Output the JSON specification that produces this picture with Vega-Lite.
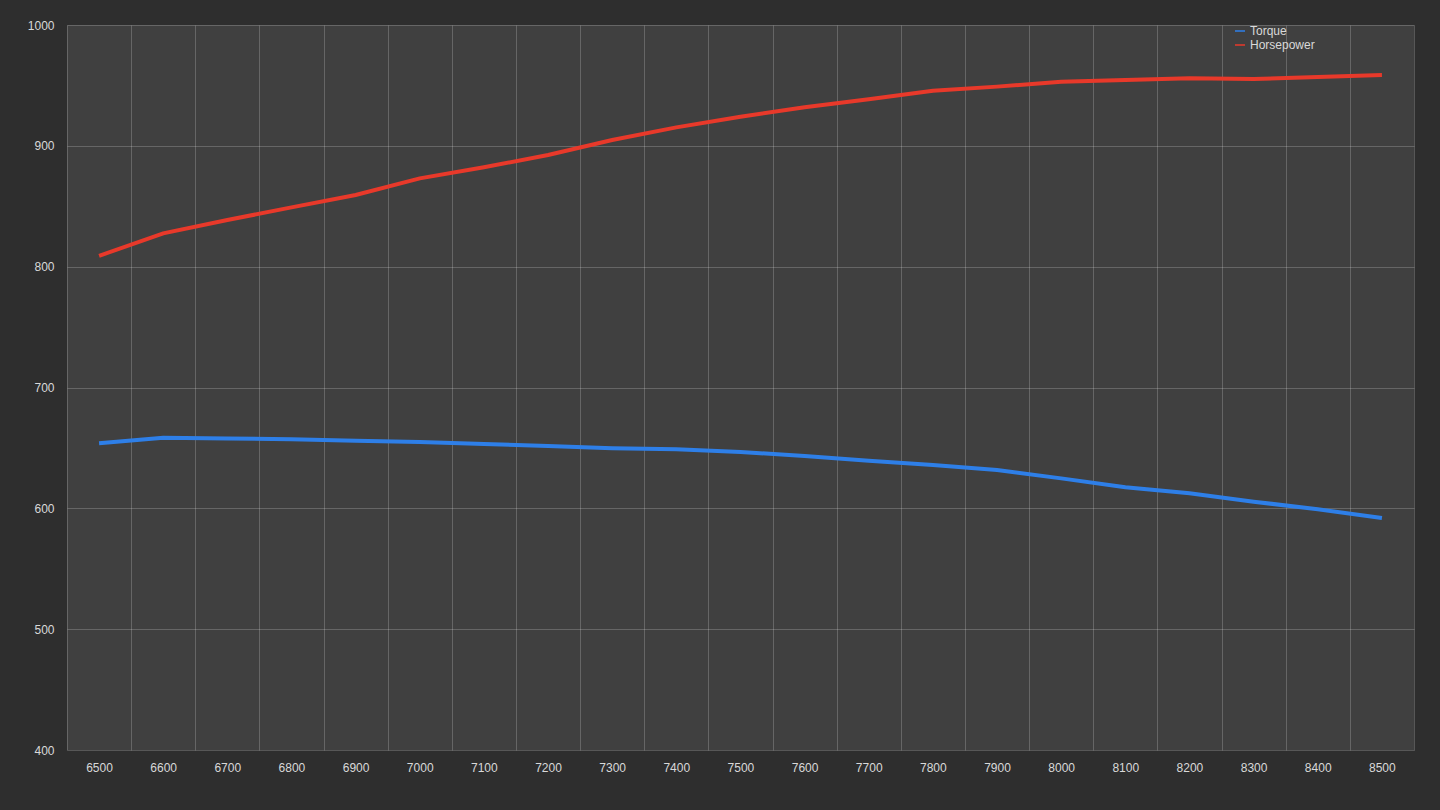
{
  "$schema": "https://vega.github.io/schema/vega-lite/v6.json",
  "width": 1347,
  "height": 725,
  "autosize": "none",
  "padding": {"left": 67, "top": 25, "right": 26, "bottom": 60},
  "background": "#2e2e2e",
  "config": {
    "view": {"stroke": null, "fill": "#404040"},
    "axis": {
      "labelColor": "#d9d9d9",
      "labelFontSize": 12,
      "ticks": false,
      "domain": false,
      "gridColor": "#ffffff",
      "gridOpacity": 0.2
    },
    "legend": {
      "labelColor": "#d9d9d9",
      "labelFontSize": 12
    }
  },
  "data": {
    "values": [
      {"rpm": 6500, "series": "Torque", "v": 653.8},
      {"rpm": 6600, "series": "Torque", "v": 658.5},
      {"rpm": 6700, "series": "Torque", "v": 657.8},
      {"rpm": 6800, "series": "Torque", "v": 657.1},
      {"rpm": 6900, "series": "Torque", "v": 656.0},
      {"rpm": 7000, "series": "Torque", "v": 654.9},
      {"rpm": 7100, "series": "Torque", "v": 653.2},
      {"rpm": 7200, "series": "Torque", "v": 651.6},
      {"rpm": 7300, "series": "Torque", "v": 649.7},
      {"rpm": 7400, "series": "Torque", "v": 648.8},
      {"rpm": 7500, "series": "Torque", "v": 646.6},
      {"rpm": 7600, "series": "Torque", "v": 643.3},
      {"rpm": 7700, "series": "Torque", "v": 639.4},
      {"rpm": 7800, "series": "Torque", "v": 635.8},
      {"rpm": 7900, "series": "Torque", "v": 631.7},
      {"rpm": 8000, "series": "Torque", "v": 624.8},
      {"rpm": 8100, "series": "Torque", "v": 617.4},
      {"rpm": 8200, "series": "Torque", "v": 612.4},
      {"rpm": 8300, "series": "Torque", "v": 605.5},
      {"rpm": 8400, "series": "Torque", "v": 599.2},
      {"rpm": 8500, "series": "Torque", "v": 592.0},
      {"rpm": 6500, "series": "Horsepower", "v": 809.0},
      {"rpm": 6600, "series": "Horsepower", "v": 827.6},
      {"rpm": 6700, "series": "Horsepower", "v": 838.6},
      {"rpm": 6800, "series": "Horsepower", "v": 849.1},
      {"rpm": 6900, "series": "Horsepower", "v": 859.3},
      {"rpm": 7000, "series": "Horsepower", "v": 873.1},
      {"rpm": 7100, "series": "Horsepower", "v": 882.2},
      {"rpm": 7200, "series": "Horsepower", "v": 892.4},
      {"rpm": 7300, "series": "Horsepower", "v": 904.8},
      {"rpm": 7400, "series": "Horsepower", "v": 915.3},
      {"rpm": 7500, "series": "Horsepower", "v": 924.1},
      {"rpm": 7600, "series": "Horsepower", "v": 931.9},
      {"rpm": 7700, "series": "Horsepower", "v": 938.5},
      {"rpm": 7800, "series": "Horsepower", "v": 945.6},
      {"rpm": 7900, "series": "Horsepower", "v": 949.0},
      {"rpm": 8000, "series": "Horsepower", "v": 953.1},
      {"rpm": 8100, "series": "Horsepower", "v": 954.5},
      {"rpm": 8200, "series": "Horsepower", "v": 955.9},
      {"rpm": 8300, "series": "Horsepower", "v": 955.3},
      {"rpm": 8400, "series": "Horsepower", "v": 957.0},
      {"rpm": 8500, "series": "Horsepower", "v": 958.6}
    ]
  },
  "mark": {"type": "line", "strokeWidth": 4},
  "encoding": {
    "x": {
      "field": "rpm", "type": "quantitative", "title": null,
      "scale": {"domain": [6450, 8550], "nice": false, "zero": false},
      "axis": {
        "values": [6450, 6550, 6650, 6750, 6850, 6950, 7050, 7150, 7250, 7350, 7450, 7550, 7650, 7750, 7850, 7950, 8050, 8150, 8250, 8350, 8450, 8550],
        "labelExpr": "datum.value < 8500 ? format(datum.value + 50, 'd') : ''",
        "labelOffset": 32, "labelFlush": false, "labelPadding": 12, "grid": true
      }
    },
    "y": {
      "field": "v", "type": "quantitative", "title": null,
      "scale": {"domain": [400, 1000], "nice": false, "zero": false},
      "axis": {"values": [400, 500, 600, 700, 800, 900, 1000], "format": "d", "grid": true, "labelPadding": 13}
    },
    "color": {
      "field": "series", "type": "nominal", "title": null,
      "scale": {"domain": ["Torque", "Horsepower"], "range": ["#2e7fe8", "#e8392a"]},
      "legend": {"orient": "right", "offset": -180}
    }
  }
}
